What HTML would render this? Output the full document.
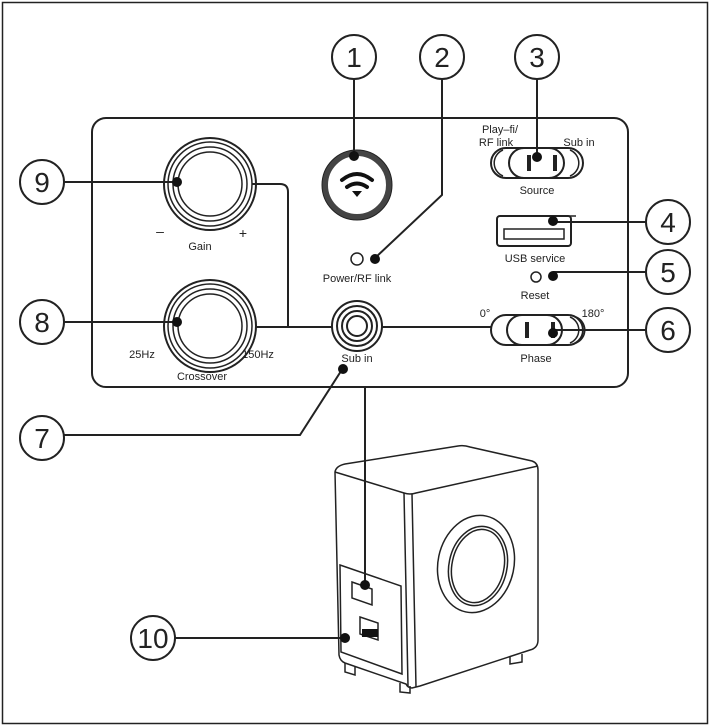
<!DOCTYPE html>
<html><head><style>body{margin:0;background:#fff}svg{display:block}text{font-family:"Liberation Sans",sans-serif;fill:#222}</style></head><body>
<svg width="710" height="727" viewBox="0 0 710 727" xmlns="http://www.w3.org/2000/svg">
<rect x="2.5" y="2.5" width="705" height="721" fill="none" stroke="#222" stroke-width="1.5"/>
<g fill="none" stroke="#222" stroke-width="2">
<rect x="92" y="118" width="536" height="269" rx="14"/>
<!-- Gain knob -->
<circle cx="210" cy="184" r="46"/><circle cx="210" cy="184" r="42" stroke-width="1.5"/><circle cx="210" cy="184" r="37" stroke-width="1.5"/><circle cx="210" cy="184" r="32" stroke-width="1.5"/>
<!-- Crossover knob -->
<circle cx="210" cy="326" r="46"/><circle cx="210" cy="326" r="42" stroke-width="1.5"/><circle cx="210" cy="326" r="37" stroke-width="1.5"/><circle cx="210" cy="326" r="32" stroke-width="1.5"/>
<!-- wifi button -->
<circle cx="357" cy="185" r="32" stroke-width="6" stroke="#444"/>
<circle cx="357" cy="185" r="35" stroke-width="1"/>
<!-- power led -->
<circle cx="357" cy="259" r="6" stroke-width="1.5"/>
<!-- sub in jack -->
<circle cx="357" cy="326" r="25"/><circle cx="357" cy="326" r="20"/><circle cx="357" cy="326" r="15"/><circle cx="357" cy="326" r="10"/>
<!-- connection lines -->
<path d="M252 184 H280 Q288 184 288 192 V327"/>
<path d="M255 327 H332 M382 327 H492"/>
<path d="M365 387 V585"/>
<!-- Source switch -->
<rect x="491" y="148" width="92" height="30" rx="15"/>
<rect x="509" y="148" width="55" height="30" rx="15"/>
<path d="M503 150 A14 14 0 0 0 503 176 M570 150 A14 14 0 0 1 570 176" stroke-width="1.5"/>
<path d="M529 155 V171 M555 155 V171" stroke-width="4"/>
<!-- USB -->
<rect x="497" y="216" width="74" height="30" rx="3"/>
<rect x="504" y="229" width="60" height="10" stroke-width="1.5"/>
<path d="M563 216 H576" stroke-width="1.5"/>
<!-- reset -->
<circle cx="536" cy="277" r="5" stroke-width="1.5"/>
<!-- phase switch -->
<rect x="491" y="315" width="92" height="30" rx="15"/>
<rect x="507" y="315" width="55" height="30" rx="15"/>
<path d="M570 317 A14 14 0 0 1 570 343 M576 317 A14 14 0 0 1 576 343" stroke-width="1.5"/>
<path d="M527 322 V338 M553 322 V338" stroke-width="4"/>
<!-- callout circles -->
<circle cx="354" cy="57" r="22"/><circle cx="442" cy="57" r="22"/><circle cx="537" cy="57" r="22"/>
<circle cx="668" cy="222" r="22"/><circle cx="668" cy="272" r="22"/><circle cx="668" cy="330" r="22"/>
<circle cx="42" cy="182" r="22"/><circle cx="42" cy="322" r="22"/><circle cx="42" cy="438" r="22"/>
<circle cx="153" cy="638" r="22"/>
<!-- leader lines -->
<path d="M354 79 V155"/>
<path d="M442 79 V195 L375 258"/>
<path d="M537 79 V157"/>
<path d="M646 222 H553"/>
<path d="M646 272 H553"/>
<path d="M646 330 H553"/>
<path d="M64 182 H177"/>
<path d="M64 322 H177"/>
<path d="M64 435 H300 L343 368"/>
<path d="M175 638 H345"/>
<!-- subwoofer -->
<g stroke-width="1.5">
<path d="M335 472 Q336 466 345 464 L458 446 Q464 445 470 447 L532 461 Q538 463 538 470 L538 640 Q538 648 530 650 L420 686 L412 688 Q408 688 406 684 L345 663 Q340 661 339 655 Z"/>
<path d="M335 472 L404 493 Q410 495 416 493 L538 466"/>
<path d="M404 493 L408 686 M412 494 L416 687"/>
<ellipse cx="476" cy="564" rx="38" ry="49" transform="rotate(12 476 564)"/>
<ellipse cx="478" cy="566" rx="29" ry="40" transform="rotate(12 478 566)"/>
<ellipse cx="478" cy="566" rx="26" ry="37" transform="rotate(12 478 566)"/>
<path d="M340 565 L401 586 L402 674 L341 652 Z"/>
<path d="M352 582 L372 589 L372 605 L352 598 Z"/>
<path d="M360 617 L378 623 L378 640 L360 634 Z"/>
<path d="M345 663 L345 672 L355 675 L355 666 M400 683 L400 692 L410 693 L410 686 M510 656 L510 664 L522 662 L522 654"/>
</g>
</g>
<g fill="#111">
<circle cx="177" cy="182" r="5"/><circle cx="177" cy="322" r="5"/>
<circle cx="354" cy="156" r="5"/><circle cx="375" cy="259" r="5"/>
<circle cx="537" cy="157" r="5"/><circle cx="553" cy="221" r="5"/><circle cx="553" cy="276" r="5"/><circle cx="553" cy="333" r="5"/>
<circle cx="343" cy="369" r="5"/><circle cx="365" cy="585" r="5"/><circle cx="345" cy="638" r="5"/>
<rect x="362" y="629" width="16" height="8"/>
</g>
<!-- wifi icon -->
<g fill="none" stroke="#111" stroke-width="4" stroke-linecap="round">
<path d="M342 180 Q357 168 372 180"/><path d="M347 187 Q357 180 367 187"/>
</g>
<path d="M352 191 L362 191 L357 197 Z" fill="#111"/>
<g font-size="11" text-anchor="middle">
<text x="200" y="250">Gain</text><text x="160" y="236" font-size="14">–</text><text x="243" y="238" font-size="14">+</text>
<text x="202" y="380">Crossover</text><text x="142" y="358">25Hz</text><text x="258" y="358">150Hz</text>
<text x="357" y="282">Power/RF link</text><text x="357" y="362">Sub in</text>
<text x="500" y="133">Play–fi/</text><text x="496" y="146">RF link</text><text x="579" y="146">Sub in</text>
<text x="537" y="194">Source</text><text x="535" y="262">USB service</text><text x="535" y="299">Reset</text>
<text x="485" y="317">0°</text><text x="593" y="317">180°</text><text x="536" y="362">Phase</text>
</g>
<g font-size="28" text-anchor="middle">
<text x="354" y="67">1</text><text x="442" y="67">2</text><text x="537" y="67">3</text>
<text x="668" y="232">4</text><text x="668" y="282">5</text><text x="668" y="340">6</text>
<text x="42" y="448">7</text><text x="42" y="332">8</text><text x="42" y="192">9</text><text x="153" y="648">10</text>
</g>
</svg>
</body></html>
